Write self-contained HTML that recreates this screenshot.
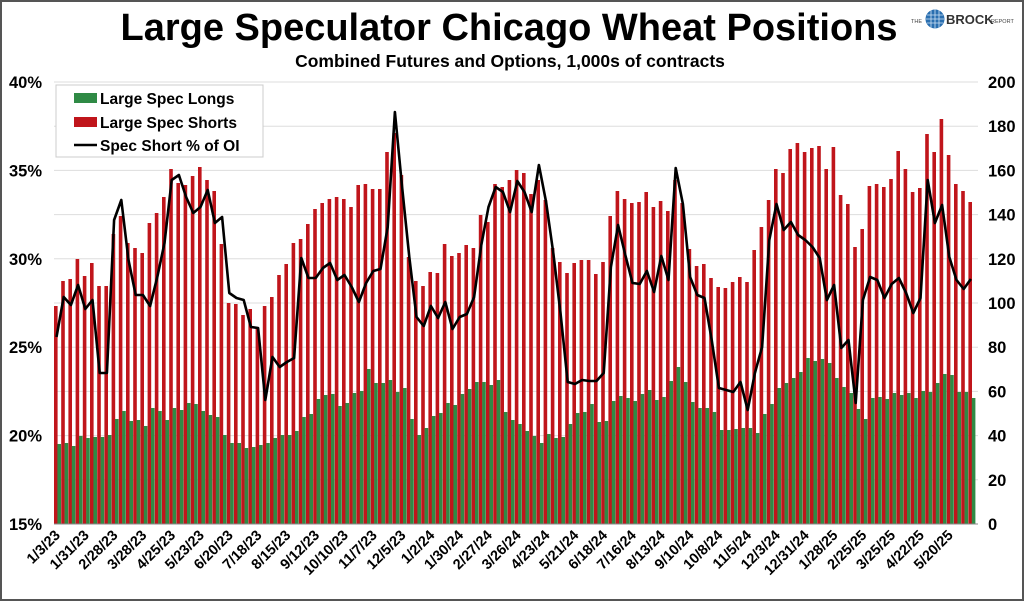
<!DOCTYPE html>
<html><head><meta charset="utf-8"><style>
body{margin:0;background:#fff;}
svg{display:block;font-family:"Liberation Sans",Arial,sans-serif;}
</style></head><body>
<svg id="c" width="1024" height="601" xmlns="http://www.w3.org/2000/svg">
<rect x="1" y="1" width="1022" height="599" fill="#fff" stroke="#555" stroke-width="2"/>
<text x="509" y="40" text-anchor="middle" font-size="38" font-weight="bold">Large Speculator Chicago Wheat Positions</text>
<text x="510" y="67" text-anchor="middle" font-size="17.5" font-weight="bold">Combined Futures and Options, 1,000s of contracts</text>
<text x="911" y="23" font-size="5.5" fill="#444">THE</text>
<circle cx="935" cy="19" r="9.5" fill="#2a6fb0"/>
<path d="M927 15h16M926 19h18M927 23h16M931 10v18M935 9v20M939 10v18" stroke="#cfe3f5" stroke-width="0.8" fill="none"/>
<text x="946" y="24" font-size="13" font-weight="bold" fill="#333">BROCK</text>
<text x="991" y="23" font-size="5.5" fill="#444">REPORT</text>
<g id="g"></g>
</svg>
<script>
var red=[306,281,279,259,276,263,286,286,234,216,243,248,253,223,213,197,169,183,185,176,167,180,191,244,303,304,315,309,329,306,297,275,264,243,239,224,209,203,199,197,199,207,185,184,189,
189,152,133,175,257,281,286,272,273,244,256,253,245,248,215,222,184,187,180,170,173,194,180,200,248,262,273,263,260,260,274,262,216,191,199,203,202,192,207,201,211,180,203,249,
266,264,278,287,288,282,277,282,250,227,200,169,173,149,143,152,148,146,169,147,195,204,247,229,186,184,187,179,151,169,192,188,134,152,119,155,184,191,202];
var grn=[444,443,446,436,438,437,437,435,419,411,421,420,426,408,411,420,408,410,403,404,411,415,417,435,443,443,448,447,445,443,438,435,435,431,417,414,399,395,394,406,403,393,391,369,383,
383,380,392,388,419,435,428,416,413,403,405,394,389,382,382,385,380,412,420,424,431,436,443,434,438,437,424,413,412,404,422,421,401,396,398,401,394,390,400,397,381,367,382,402,
408,408,412,430,430,429,428,428,433,414,404,388,383,378,372,358,361,359,363,378,387,393,409,419,398,397,399,393,395,393,398,391,392,383,374,375,392,392,398];
var ln=[337,297,305,285,309,300,373,373,220,200,260,295,295,306,277,243,180,175,197,213,207,190,223,217,293,298,300,327,328,400,357,367,362,358,258,278,278,268,263,280,275,287,302,283,271,
269,227,112,187,257,317,326,306,318,302,329,317,314,297,245,207,187,192,212,181,192,212,165,202,253,313,382,384,380,381,381,373,267,225,255,283,284,271,292,256,280,168,204,277,
295,298,340,388,390,392,382,410,373,347,240,204,230,222,235,240,247,258,300,285,348,340,403,300,277,280,298,284,278,293,313,298,180,223,205,257,280,289,279];
var labs="1/3/23 1/31/23 2/28/23 3/28/23 4/25/23 5/23/23 6/20/23 7/18/23 8/15/23 9/12/23 10/10/23 11/7/23 12/5/23 1/2/24 1/30/24 2/27/24 3/26/24 4/23/24 5/21/24 6/18/24 7/16/24 8/13/24 9/10/24 10/8/24 11/5/24 12/3/24 12/31/24 1/28/25 2/25/25 3/25/25 4/22/25 5/20/25".split(" ");
var s="",i;
for(i=0;i<=10;i++){var y=82+i*44.2;s+='<line x1="54" x2="978" y1="'+y+'" y2="'+y+'" stroke="#ddd" stroke-width="1"/>';}
for(i=0;i<=5;i++){var y=524-i*88.4;s+='<text x="42" y="'+(y+6)+'" text-anchor="end" font-size="16.5" font-weight="bold">'+(15+i*5)+'%</text>';}
for(i=0;i<=10;i++){var y=524-i*44.2;s+='<text x="988" y="'+(y+6)+'" font-size="16.5" font-weight="bold">'+(i*20)+'</text>';}
var pts=[];
for(i=0;i<128;i++){var x=54+i*7.2;
s+='<rect x="'+x+'" y="'+red[i]+'" width="3.6" height="'+(524-red[i])+'" fill="#c0151b"/>';
s+='<rect x="'+(x+3.4)+'" y="'+grn[i]+'" width="3.6" height="'+(524-grn[i])+'" fill="#2f8a45"/>';
pts.push((x+2.5).toFixed(1)+","+ln[i]);}
s+='<polyline points="'+pts.join(" ")+'" fill="none" stroke="#000" stroke-width="2.6" stroke-linejoin="round"/>';
s+='<line x1="54" x2="978" y1="524" y2="524" stroke="#888"/>';
for(i=0;i<labs.length;i++){var x=61+i*4*7.2;
s+='<text transform="translate('+x+',536) rotate(-45)" text-anchor="end" font-size="14.5" font-weight="bold">'+labs[i]+'</text>';}
s+='<rect x="56" y="85" width="207" height="72" fill="#fff" stroke="#ccc"/>';
s+='<rect x="74" y="93" width="23" height="10" fill="#2f8a45"/><text x="100" y="104" font-size="15.5" font-weight="bold">Large Spec Longs</text>';
s+='<rect x="74" y="117" width="23" height="10" fill="#c0151b"/><text x="100" y="128" font-size="15.5" font-weight="bold">Large Spec Shorts</text>';
s+='<line x1="74" x2="97" y1="145" y2="145" stroke="#000" stroke-width="2.6"/><text x="100" y="151" font-size="15.5" font-weight="bold">Spec Short % of OI</text>';
document.getElementById("g").innerHTML=s;
</script>
</body></html>
